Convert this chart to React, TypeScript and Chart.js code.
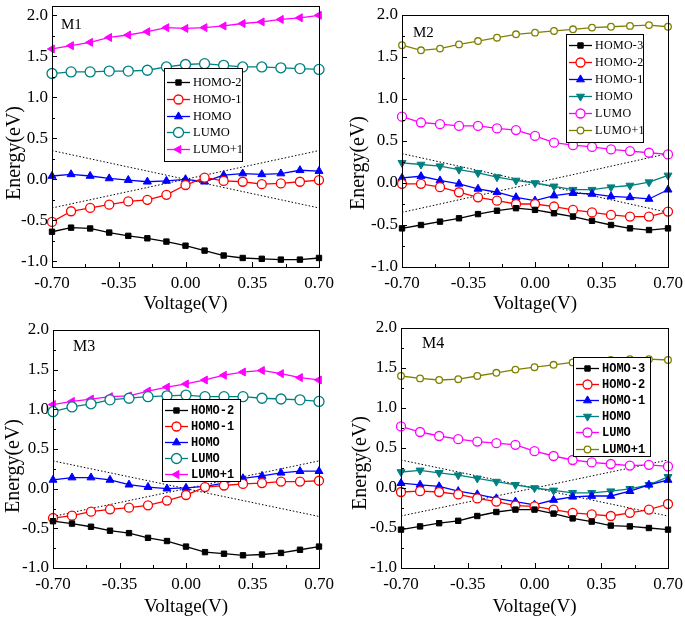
import React, { useEffect, useRef } from 'react';
import { Chart, registerables } from 'chart.js';
import { drawPoint } from 'chart.js/helpers';

Chart.register(...registerables);

// ---------- data ----------
const voltages = [-0.7, -0.6, -0.5, -0.4, -0.3, -0.2, -0.1, 0, 0.1, 0.2, 0.3, 0.4, 0.5, 0.6, 0.7];
const xTicks = [-0.7, -0.35, 0, 0.35, 0.7];
const xMinorTicks = [-0.525, -0.175, 0.175, 0.525];
const yTicks = [-1.0, -0.5, 0, 0.5, 1.0, 1.5, 2.0];
const yMinorTicks = [-0.75, -0.25, 0.25, 0.75, 1.25, 1.75];
const biasX = [-0.7, 0.7];
const biasDown = [0.35, -0.35];
const biasUp = [-0.35, 0.35];

const m1Labels = ['HOMO-2', 'HOMO-1', 'HOMO', 'LUMO', 'LUMO+1'];
const m1Homo2 = [-0.64, -0.59, -0.60, -0.65, -0.69, -0.72, -0.76, -0.81, -0.87, -0.93, -0.96, -0.97, -0.98, -0.98, -0.96];
const m1Homo1 = [-0.52, -0.39, -0.35, -0.31, -0.27, -0.25, -0.19, -0.07, 0.02, -0.02, -0.03, -0.06, -0.05, -0.03, -0.01];
const m1Homo = [0.04, 0.06, 0.04, 0.01, -0.01, -0.03, -0.02, 0.00, -0.03, 0.05, 0.07, 0.06, 0.07, 0.11, 0.10];
const m1Lumo = [1.29, 1.31, 1.31, 1.32, 1.32, 1.33, 1.37, 1.40, 1.41, 1.39, 1.37, 1.37, 1.36, 1.35, 1.34];
const m1Lumo1 = [1.59, 1.63, 1.67, 1.73, 1.76, 1.80, 1.85, 1.84, 1.85, 1.87, 1.90, 1.92, 1.95, 1.97, 2.00];

const m2Labels = ['HOMO-3', 'HOMO-2', 'HOMO-1', 'HOMO', 'LUMO', 'LUMO+1'];
const m2Homo3 = [-0.54, -0.50, -0.46, -0.42, -0.37, -0.33, -0.30, -0.32, -0.36, -0.40, -0.45, -0.50, -0.54, -0.56, -0.54];
const m2Homo2 = [-0.01, -0.01, -0.05, -0.11, -0.17, -0.21, -0.25, -0.25, -0.28, -0.32, -0.35, -0.38, -0.40, -0.40, -0.34];
const m2Homo1 = [0.06, 0.08, 0.03, -0.01, -0.07, -0.11, -0.17, -0.21, -0.15, -0.12, -0.13, -0.16, -0.17, -0.19, -0.08];
const m2Homo = [0.24, 0.22, 0.20, 0.16, 0.12, 0.07, 0.03, 0.00, -0.04, -0.08, -0.08, -0.05, -0.03, 0.01, 0.09];
const m2Lumo = [0.79, 0.72, 0.70, 0.68, 0.68, 0.65, 0.63, 0.56, 0.48, 0.45, 0.43, 0.40, 0.38, 0.36, 0.34];
const m2Lumo1 = [1.64, 1.58, 1.60, 1.65, 1.69, 1.73, 1.77, 1.79, 1.81, 1.83, 1.85, 1.86, 1.87, 1.88, 1.86];

const m3Labels = ['HOMO-2', 'HOMO-1', 'HOMO', 'LUMO', 'LUMO+1'];
const m3Homo2 = [-0.41, -0.44, -0.48, -0.53, -0.56, -0.62, -0.66, -0.73, -0.80, -0.82, -0.84, -0.83, -0.81, -0.77, -0.73];
const m3Homo1 = [-0.37, -0.34, -0.29, -0.26, -0.24, -0.21, -0.15, -0.08, 0.02, 0.04, 0.06, 0.07, 0.09, 0.09, 0.10];
const m3Homo = [0.11, 0.14, 0.14, 0.11, 0.05, 0.02, 0.00, 0.01, 0.03, 0.07, 0.13, 0.16, 0.20, 0.22, 0.22];
const m3Lumo = [0.97, 1.03, 1.07, 1.12, 1.14, 1.16, 1.17, 1.18, 1.16, 1.16, 1.16, 1.14, 1.13, 1.12, 1.10];
const m3Lumo1 = [1.06, 1.10, 1.13, 1.16, 1.17, 1.23, 1.28, 1.32, 1.37, 1.43, 1.47, 1.49, 1.45, 1.40, 1.37];

const m4Labels = ['HOMO-3', 'HOMO-2', 'HOMO-1', 'HOMO', 'LUMO', 'LUMO+1'];
const m4Homo3 = [-0.52, -0.48, -0.44, -0.41, -0.35, -0.30, -0.27, -0.27, -0.32, -0.38, -0.42, -0.47, -0.48, -0.50, -0.52];
const m4Homo2 = [-0.05, -0.04, -0.05, -0.08, -0.13, -0.17, -0.22, -0.23, -0.27, -0.31, -0.33, -0.35, -0.31, -0.27, -0.20];
const m4Homo1 = [0.06, 0.04, 0.02, -0.04, -0.08, -0.13, -0.17, -0.21, -0.15, -0.11, -0.10, -0.10, -0.04, 0.04, 0.10];
const m4Homo = [0.20, 0.22, 0.19, 0.16, 0.12, 0.08, 0.04, 0.00, -0.03, -0.06, -0.06, -0.04, -0.01, 0.04, 0.14];
const m4Lumo = [0.77, 0.70, 0.65, 0.61, 0.58, 0.56, 0.54, 0.46, 0.40, 0.35, 0.32, 0.30, 0.28, 0.29, 0.27];
const m4Lumo1 = [1.40, 1.37, 1.35, 1.36, 1.40, 1.44, 1.48, 1.51, 1.54, 1.57, 1.58, 1.60, 1.61, 1.61, 1.60];

// ---------- styles ----------
type Mk = { color: string; shape: string; rotation: number; radius: number; filled: boolean };
const sqBlack: Mk = { color: '#000000', shape: 'rect', rotation: 0, radius: 3.8, filled: true };
const circRed: Mk = { color: '#ff0000', shape: 'circle', rotation: 0, radius: 4.5, filled: false };
const triBlue: Mk = { color: '#0000ff', shape: 'triangle', rotation: 0, radius: 4.6, filled: true };
const triTealDown: Mk = { color: '#008080', shape: 'triangle', rotation: 180, radius: 4.6, filled: true };
const circTealBig: Mk = { color: '#008080', shape: 'circle', rotation: 0, radius: 5, filled: false };
const triMagLeft: Mk = { color: '#ff00ff', shape: 'triangle', rotation: -90, radius: 4.6, filled: true };
const circMag: Mk = { color: '#ff00ff', shape: 'circle', rotation: 0, radius: 4.5, filled: false };
const circOlive: Mk = { color: '#808000', shape: 'circle', rotation: 0, radius: 3.3, filled: false };

const SERIF = "'Liberation Serif', 'Times New Roman', serif";

type PanelCfg = {
  name: string; left: number; top: number; w: number; h: number;
  area: { l: number; r: number; t: number; b: number };
  yMin: number; yMax: number;
  labels: string[]; values: number[][]; marks: Mk[];
  legend: { x: number; y: number; w: number; h: number; row0: number; gap: number; font: string; spacing: string };
  yTitle: { x: number; y: number }; tag: { x: number; y: number; size: number }; xTitlePad: number;
};

const panels: PanelCfg[] = [
  {
    name: 'M1', left: 0, top: 0, w: 342, h: 316,
    area: { l: 52, r: 319, t: 4, b: 267 }, yMin: -1.07, yMax: 2.11,
    labels: m1Labels, values: [m1Homo2, m1Homo1, m1Homo, m1Lumo, m1Lumo1],
    marks: [sqBlack, circRed, triBlue, circTealBig, triMagLeft],
    legend: { x: 164, y: 68, w: 78, h: 93, row0: 14, gap: 16.8, font: `12.5px ${SERIF}`, spacing: '0px' },
    yTitle: { x: 15, y: 153 }, tag: { x: 61, y: 25, size: 15 }, xTitlePad: 2,
  },
  {
    name: 'M2', left: 342, top: 0, w: 343, h: 316,
    area: { l: 60, r: 326, t: 15, b: 267 }, yMin: -1.0, yMax: 2.0,
    labels: m2Labels, values: [m2Homo3, m2Homo2, m2Homo1, m2Homo, m2Lumo, m2Lumo1],
    marks: [sqBlack, circRed, triBlue, triTealDown, circMag, circOlive],
    legend: { x: 224, y: 34, w: 77, h: 108, row0: 11, gap: 17, font: `12px ${SERIF}`, spacing: '0.3px' },
    yTitle: { x: 16.5, y: 163 }, tag: { x: 71, y: 33, size: 15 }, xTitlePad: 2,
  },
  {
    name: 'M3', left: 0, top: 311, w: 342, h: 311,
    area: { l: 53, r: 319, t: 19, b: 257 }, yMin: -1.0, yMax: 2.0,
    labels: m3Labels, values: [m3Homo2, m3Homo1, m3Homo, m3Lumo, m3Lumo1],
    marks: [sqBlack, circRed, triBlue, circTealBig, triMagLeft],
    legend: { x: 162, y: 88, w: 78, h: 82, row0: 11, gap: 16, font: `bold 12px 'Liberation Mono', monospace`, spacing: '0px' },
    yTitle: { x: 13.5, y: 155 }, tag: { x: 73, y: 36, size: 16 }, xTitlePad: 5,
  },
  {
    name: 'M4', left: 342, top: 311, w: 343, h: 311,
    area: { l: 59, r: 326, t: 17, b: 257 }, yMin: -1.0, yMax: 2.0,
    labels: m4Labels, values: [m4Homo3, m4Homo2, m4Homo1, m4Homo, m4Lumo, m4Lumo1],
    marks: [sqBlack, circRed, triBlue, triTealDown, circMag, circOlive],
    legend: { x: 231, y: 46, w: 77, h: 99, row0: 11, gap: 16.1, font: `bold 12px 'Liberation Mono', monospace`, spacing: '0px' },
    yTitle: { x: 18.5, y: 152 }, tag: { x: 80, y: 33, size: 16 }, xTitlePad: 5,
  },
];

const decorPlugin = {
  id: 'panelDecor',
  afterDraw(chart: any, _args: any, opts: any) {
    const cfg: PanelCfg = opts.cfg;
    if (!cfg) return;
    const ctx: CanvasRenderingContext2D = chart.ctx;
    const { left, right, top, bottom } = chart.chartArea;
    const xs = chart.scales.x;
    const ys = chart.scales.y;
    ctx.save();
    // frame
    ctx.strokeStyle = '#000';
    ctx.lineWidth = 1;
    ctx.strokeRect(Math.round(left) + 0.5, Math.round(top) + 0.5, Math.round(right - left), Math.round(bottom - top));
    // inward ticks
    ctx.beginPath();
    xTicks.forEach((v) => { const p = Math.round(xs.getPixelForValue(v)) + 0.5; ctx.moveTo(p, bottom); ctx.lineTo(p, bottom - 5); });
    xMinorTicks.forEach((v) => { const p = Math.round(xs.getPixelForValue(v)) + 0.5; ctx.moveTo(p, bottom); ctx.lineTo(p, bottom - 3); });
    yTicks.forEach((v) => { const p = Math.round(ys.getPixelForValue(v)) + 0.5; ctx.moveTo(left, p); ctx.lineTo(left + 5, p); });
    yMinorTicks.forEach((v) => { const p = Math.round(ys.getPixelForValue(v)) + 0.5; ctx.moveTo(left, p); ctx.lineTo(left + 3, p); });
    ctx.stroke();

    // y title
    ctx.save();
    ctx.translate(cfg.yTitle.x, cfg.yTitle.y);
    ctx.rotate(-Math.PI / 2);
    ctx.fillStyle = '#000';
    ctx.font = `20px ${SERIF}`;
    ctx.textAlign = 'center';
    ctx.textBaseline = 'middle';
    ctx.fillText('Energy(eV)', 0, 0);
    ctx.restore();

    // panel tag
    ctx.fillStyle = '#000';
    ctx.font = `${cfg.tag.size}px ${SERIF}`;
    ctx.textAlign = 'left';
    ctx.textBaseline = 'middle';
    ctx.fillText(cfg.name, cfg.tag.x, cfg.tag.y);

    // legend
    const L = cfg.legend;
    ctx.fillStyle = '#ffffff';
    ctx.fillRect(L.x, L.y, L.w, L.h);
    ctx.strokeStyle = '#000';
    ctx.lineWidth = 1;
    ctx.strokeRect(L.x + 0.5, L.y + 0.5, L.w, L.h);
    cfg.labels.forEach((lab, i) => {
      const mk = cfg.marks[i];
      const y = Math.round(L.y + L.row0 + i * L.gap) + 0.5;
      ctx.strokeStyle = mk.color;
      ctx.lineWidth = 1.3;
      ctx.beginPath();
      ctx.moveTo(L.x + 3, y);
      ctx.lineTo(L.x + 26, y);
      ctx.stroke();
      ctx.fillStyle = mk.filled ? mk.color : '#ffffff';
      ctx.strokeStyle = mk.color;
      ctx.lineWidth = mk.filled ? 1 : 1.3;
      drawPoint(ctx, { pointStyle: mk.shape as any, rotation: mk.rotation, radius: mk.radius, borderWidth: mk.filled ? 1 : 1.3 } as any, L.x + 14.5, y);
      ctx.fillStyle = '#000';
      ctx.font = L.font;
      (ctx as any).letterSpacing = L.spacing;
      ctx.textAlign = 'left';
      ctx.textBaseline = 'middle';
      ctx.fillText(lab, L.x + 29, y + 0.5);
      (ctx as any).letterSpacing = '0px';
    });
    ctx.restore();
  },
};

function Panel({ cfg }: { cfg: PanelCfg }) {
  const ref = useRef<HTMLCanvasElement>(null);
  useEffect(() => {
    if (!ref.current) return;
    const datasets: any[] = cfg.values.map((vals, i) => {
      const mk = cfg.marks[i];
      return {
        label: cfg.labels[i],
        data: voltages.map((x, j) => ({ x, y: vals[j] })),
        borderColor: mk.color,
        backgroundColor: mk.filled ? mk.color : '#ffffff',
        pointBackgroundColor: mk.filled ? mk.color : '#ffffff',
        pointBorderColor: mk.color,
        pointStyle: mk.shape,
        pointRotation: mk.rotation,
        pointRadius: mk.radius,
        pointBorderWidth: mk.filled ? 1 : 1.3,
        borderWidth: 1.3,
        tension: 0,
        clip: false,
        order: 1,
      };
    });
    [biasDown, biasUp].forEach((b, k) => {
      datasets.push({
        label: `bias${k}`,
        data: biasX.map((x, j) => ({ x, y: b[j] })),
        borderColor: '#000000',
        borderWidth: 1,
        borderDash: [1.5, 2],
        pointRadius: 0,
        order: 10,
      });
    });
    const { l, r, t, b } = cfg.area;
    const chart = new Chart(ref.current, {
      type: 'line',
      data: { datasets },
      plugins: [decorPlugin],
      options: {
        animation: false,
        responsive: false,
        devicePixelRatio: 1,
        layout: { padding: { left: 0, top: t, right: cfg.w - r, bottom: 0 } },
        plugins: {
          legend: { display: false },
          tooltip: { enabled: false },
          panelDecor: { cfg },
        } as any,
        scales: {
          x: {
            type: 'linear',
            min: -0.7,
            max: 0.7,
            grid: { display: false, drawTicks: false },
            border: { display: false },
            afterBuildTicks: (s: any) => { s.ticks = xTicks.map((v) => ({ value: v })); },
            afterFit: (s: any) => { s.height = cfg.h - b; s.paddingLeft = 0; s.paddingRight = 0; s.paddingTop = 0; s.paddingBottom = 0; },
            ticks: {
              maxRotation: 0,
              autoSkip: false,
              padding: 6,
              color: '#000',
              font: { family: SERIF, size: 17 },
              callback: (v: any) => Number(v).toFixed(2),
            },
            title: {
              display: true,
              text: 'Voltage(V)',
              color: '#000',
              font: { family: SERIF, size: 19, lineHeight: 1 },
              padding: { top: 0, bottom: cfg.xTitlePad },
            },
          },
          y: {
            type: 'linear',
            min: cfg.yMin,
            max: cfg.yMax,
            grid: { display: false, drawTicks: false },
            border: { display: false },
            afterBuildTicks: (s: any) => { s.ticks = yTicks.map((v) => ({ value: v })); },
            afterFit: (s: any) => { s.width = l; s.paddingLeft = 0; s.paddingRight = 0; s.paddingTop = 0; s.paddingBottom = 0; },
            ticks: {
              padding: 4,
              color: '#000',
              font: { family: SERIF, size: 17 },
              callback: (v: any) => Number(v).toFixed(1),
            },
          },
        },
      } as any,
    });
    return () => chart.destroy();
  }, [cfg]);
  return (
    <canvas
      ref={ref}
      width={cfg.w}
      height={cfg.h}
      style={{ position: 'absolute', left: cfg.left, top: cfg.top, width: cfg.w, height: cfg.h }}
    />
  );
}

export default function App() {
  return (
    <div style={{ position: 'absolute', left: 0, top: 0, width: 685, height: 622, background: '#ffffff' }}>
      {panels.map((p) => (
        <Panel key={p.name} cfg={p} />
      ))}
    </div>
  );
}
